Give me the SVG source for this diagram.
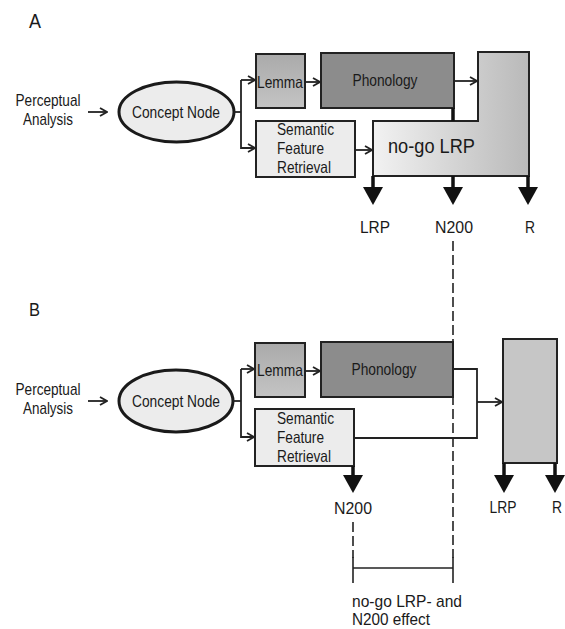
<svg xmlns="http://www.w3.org/2000/svg" width="565" height="629" viewBox="0 0 565 629">
<style>
text{font-family:"Liberation Sans",Arial,sans-serif;fill:#1a1a1a}
.t15{font-size:16.5px}
.t16{font-size:17px}
.box{stroke:#222;stroke-width:2}
.thin{fill:none;stroke:#222;stroke-width:1.8}
.thick{fill:none;stroke:#111;stroke-width:3.5}
.dash{fill:none;stroke:#222;stroke-width:1.6;stroke-dasharray:10 4}
.solid{fill:none;stroke:#222;stroke-width:1.6}
</style>
<defs>
<marker id="open" viewBox="0 0 10 10" refX="9" refY="5" markerWidth="10" markerHeight="10" markerUnits="userSpaceOnUse" orient="auto">
<polyline points="2,1 9,5 2,9" fill="none" stroke="#222" stroke-width="1.8"/>
</marker>
<linearGradient id="lg" x1="0" y1="0" x2="1" y2="0">
<stop offset="0" stop-color="#f2f2f2"/>
<stop offset="1" stop-color="#b9b9b9"/>
</linearGradient>
<linearGradient id="lem" x1="0" y1="0" x2="0" y2="1">
<stop offset="0" stop-color="#aaaaaa"/>
<stop offset="1" stop-color="#c4c4c4"/>
</linearGradient>
<path id="dn" d="M-10,0 L10,0 L0,18 Z" fill="#111"/>
</defs>
<rect width="565" height="629" fill="#fff"/>

<text x="29" y="28" style="font-size:21px" textLength="12" lengthAdjust="spacingAndGlyphs">A</text>
<text x="29" y="316" style="font-size:19px" textLength="11" lengthAdjust="spacingAndGlyphs">B</text>

<g id="perceptualA">
<text class="t16" x="48" y="106" text-anchor="middle" textLength="65" lengthAdjust="spacingAndGlyphs">Perceptual</text>
<text class="t16" x="48" y="125" text-anchor="middle" textLength="50" lengthAdjust="spacingAndGlyphs">Analysis</text>
</g>
<g id="conceptA">
<ellipse cx="176.5" cy="112" rx="57.5" ry="30" fill="#ececec" stroke="#1a1a1a" stroke-width="3"/>
<text class="t16" x="176" y="118" text-anchor="middle" textLength="88" lengthAdjust="spacingAndGlyphs">Concept Node</text>
</g>
<g id="lemmaA">
<rect class="box" x="256" y="54" width="49" height="54" fill="url(#lem)"/>
<text class="t15" x="280" y="88" text-anchor="middle" textLength="46" lengthAdjust="spacingAndGlyphs">Lemma</text>
</g>
<g id="phonologyA">
<rect class="box" x="321" y="53" width="133" height="55" fill="#8c8c8c"/>
<text class="t15" x="385" y="86" text-anchor="middle" textLength="65" lengthAdjust="spacingAndGlyphs">Phonology</text>
</g>
<g id="semanticA">
<rect class="box" x="256" y="121" width="99" height="56" fill="#ececec"/>
<text class="t15" x="277" y="135" textLength="57" lengthAdjust="spacingAndGlyphs">Semantic</text>
<text class="t15" x="277" y="154" textLength="47" lengthAdjust="spacingAndGlyphs">Feature</text>
<text class="t15" x="277" y="173" textLength="54" lengthAdjust="spacingAndGlyphs">Retrieval</text>
</g>
<g id="nogoA">
<polygon class="box" points="478,52 529,52 529,176 373,176 373,121 478,121" fill="url(#lg)"/>
<text x="388" y="153" style="font-size:21px" textLength="87" lengthAdjust="spacingAndGlyphs">no-go LRP</text>
</g>
<g id="outputsA">
<text class="t16" x="375" y="233" text-anchor="middle" textLength="30" lengthAdjust="spacingAndGlyphs">LRP</text>
<text class="t16" x="454" y="233" text-anchor="middle" textLength="38" lengthAdjust="spacingAndGlyphs">N200</text>
<text class="t16" x="530" y="233" text-anchor="middle" textLength="10" lengthAdjust="spacingAndGlyphs">R</text>
</g>

<g id="perceptualB">
<text class="t16" x="48" y="395" text-anchor="middle" textLength="65" lengthAdjust="spacingAndGlyphs">Perceptual</text>
<text class="t16" x="48" y="414" text-anchor="middle" textLength="50" lengthAdjust="spacingAndGlyphs">Analysis</text>
</g>
<g id="conceptB">
<ellipse cx="176" cy="401" rx="57" ry="31" fill="#ececec" stroke="#1a1a1a" stroke-width="3"/>
<text class="t16" x="176" y="407" text-anchor="middle" textLength="88" lengthAdjust="spacingAndGlyphs">Concept Node</text>
</g>
<g id="lemmaB">
<rect class="box" x="255" y="343" width="50" height="54" fill="url(#lem)"/>
<text class="t15" x="280" y="376" text-anchor="middle" textLength="46" lengthAdjust="spacingAndGlyphs">Lemma</text>
</g>
<g id="phonologyB">
<rect class="box" x="321" y="342" width="132" height="55" fill="#8c8c8c"/>
<text class="t15" x="384" y="375" text-anchor="middle" textLength="65" lengthAdjust="spacingAndGlyphs">Phonology</text>
</g>
<g id="semanticB">
<rect class="box" x="255" y="409" width="99" height="57" fill="#ececec"/>
<text class="t15" x="277" y="424" textLength="57" lengthAdjust="spacingAndGlyphs">Semantic</text>
<text class="t15" x="277" y="443" textLength="47" lengthAdjust="spacingAndGlyphs">Feature</text>
<text class="t15" x="277" y="462" textLength="54" lengthAdjust="spacingAndGlyphs">Retrieval</text>
</g>
<g id="responseB">
<rect class="box" x="503" y="339" width="54" height="124" fill="#c6c6c6"/>
</g>
<g id="outputsB">
<text class="t16" x="353" y="514" text-anchor="middle" textLength="38" lengthAdjust="spacingAndGlyphs">N200</text>
<text class="t16" x="503" y="513" text-anchor="middle" textLength="27" lengthAdjust="spacingAndGlyphs">LRP</text>
<text class="t16" x="557" y="513" text-anchor="middle" textLength="10" lengthAdjust="spacingAndGlyphs">R</text>
</g>
<g id="effect">
<text class="t16" x="352" y="607" textLength="110" lengthAdjust="spacingAndGlyphs">no-go LRP- and</text>
<text class="t16" x="352" y="625" textLength="78" lengthAdjust="spacingAndGlyphs">N200 effect</text>
</g>

<g id="connectors">
<line class="thin" x1="88" y1="112" x2="107" y2="112" marker-end="url(#open)"/>
<polyline class="thin" points="234,112 241,112"/>
<polyline class="thin" points="241,80 241,148 255,148" marker-end="url(#open)"/>
<line class="thin" x1="241" y1="80" x2="255" y2="80" marker-end="url(#open)"/>
<line class="thin" x1="305" y1="82" x2="320" y2="82" marker-end="url(#open)"/>
<line class="thin" x1="454" y1="81" x2="477" y2="81" marker-end="url(#open)"/>
<line class="thin" x1="355" y1="150" x2="372" y2="150" marker-end="url(#open)"/>
<line class="thick" x1="453" y1="108" x2="453" y2="121"/>
<line class="thick" x1="373" y1="176" x2="373" y2="188"/>
<use href="#dn" x="373" y="187"/>
<line class="thick" x1="453" y1="176" x2="453" y2="188"/>
<use href="#dn" x="453" y="187"/>
<line class="thick" x1="528" y1="176" x2="528" y2="188"/>
<use href="#dn" x="528" y="187"/>

<line class="thin" x1="88" y1="401" x2="107" y2="401" marker-end="url(#open)"/>
<polyline class="thin" points="233,401 241,401"/>
<polyline class="thin" points="241,369 241,437 254,437" marker-end="url(#open)"/>
<line class="thin" x1="241" y1="369" x2="254" y2="369" marker-end="url(#open)"/>
<line class="thin" x1="305" y1="371" x2="320" y2="371" marker-end="url(#open)"/>
<polyline class="thin" points="453,369 477,369 477,438 354,438"/>
<line class="thin" x1="477" y1="402" x2="502" y2="402" marker-end="url(#open)"/>
<line class="thick" x1="353" y1="466" x2="353" y2="476"/>
<use href="#dn" x="353" y="475"/>
<line class="thick" x1="504" y1="463" x2="504" y2="476"/>
<use href="#dn" x="504" y="475"/>
<line class="thick" x1="555" y1="463" x2="555" y2="476"/>
<use href="#dn" x="555" y="475"/>

<line class="dash" x1="453" y1="241" x2="453" y2="558"/>
<line class="dash" x1="353" y1="522" x2="353" y2="558"/>
<line class="solid" x1="353" y1="557" x2="353" y2="583"/>
<line class="solid" x1="453" y1="557" x2="453" y2="583"/>
<line class="solid" x1="353" y1="568" x2="453" y2="568"/>
</g>
</svg>
